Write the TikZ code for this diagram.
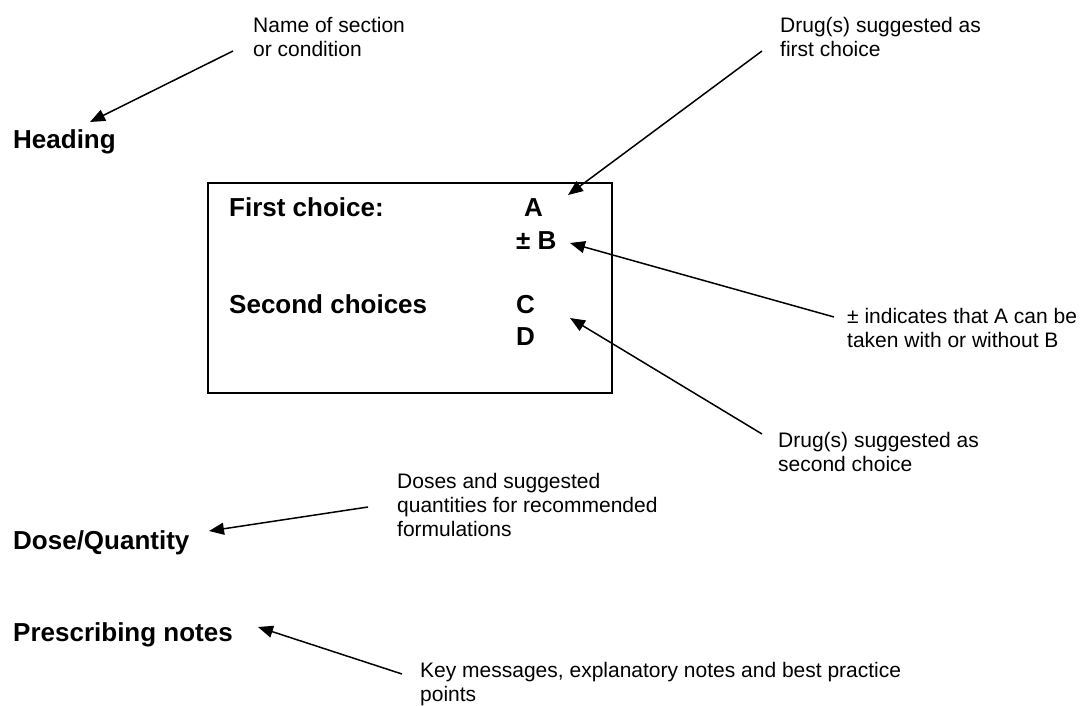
\documentclass[tikz,border=0pt]{standalone}
\usepackage{fontspec}
\setmainfont{Liberation Sans}
\usetikzlibrary{arrows.meta}

\begin{document}
\begin{tikzpicture}[x=1pt, y=-1pt,
  head/.style={font=\bfseries\fontsize{26}{32}\selectfont, anchor=base west, inner sep=0pt},
  note/.style={font=\fontsize{21}{24}\selectfont, anchor=base west, align=left, inner sep=0pt},
  pointer/.style={-{Triangle[length=15pt,width=12pt]}, line width=1.5pt}]
\useasboundingbox (0,0) rectangle (1088,706);
\node[draw, line width=1.6pt, minimum width=404pt, minimum height=210pt,
  anchor=north west, inner sep=0pt] (frame) at (207,182) {};
\node[head] (heading) at (13,149) {Heading};
\node[head] (dose) at (13,549) {Dose/Quantity};
\node[head] (notes) at (13,641) {Prescribing notes};
\node[head] (first) at (229,217) {First choice:};
\node[head] (A) at (524,217) {A};
\node[head] (B) at (516,250) {± B};
\node[head] (second) at (229,313) {Second choices};
\node[head] (C) at (516,313) {C};
\node[head] (D) at (516,345) {D};
\node[note] (name) at (253,57) {Name of section\\or condition};
\node[note] (firstdrug) at (780,57) {Drug(s) suggested as\\first choice};
\node[note] (plusminus) at (847,347) {± indicates that A can be\\taken with or without B};
\node[note] (seconddrug) at (778,471) {Drug(s) suggested as\\second choice};
\node[note] (doses) at (397,536) {Doses and suggested\\quantities for recommended\\formulations};
\node[note] (key) at (420,701) {Key messages, explanatory notes and best practice\\points};
\coordinate (name end) at (233,51);
\coordinate (heading tip) at (90,122);
\coordinate (firstdrug end) at (762,51);
\coordinate (A tip) at (568,195);
\coordinate (plusminus end) at (834,317);
\coordinate (B tip) at (570,243);
\coordinate (seconddrug end) at (762,434);
\coordinate (C tip) at (570,318);
\coordinate (doses end) at (368,507);
\coordinate (dose tip) at (209,531);
\coordinate (key end) at (402,674);
\coordinate (notes tip) at (258,627);
\draw[pointer] (name end) -- (heading tip);
\draw[pointer] (firstdrug end) -- (A tip);
\draw[pointer] (plusminus end) -- (B tip);
\draw[pointer] (seconddrug end) -- (C tip);
\draw[pointer] (doses end) -- (dose tip);
\draw[pointer] (key end) -- (notes tip);
\end{tikzpicture}
\end{document}
